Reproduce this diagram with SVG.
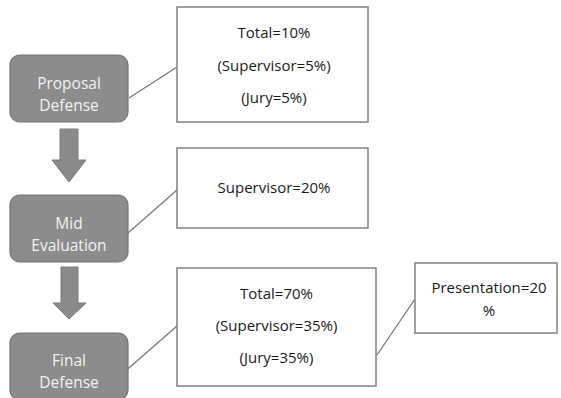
<svg xmlns="http://www.w3.org/2000/svg" width="561" height="398" viewBox="0 0 561 398">
<style>
.node{fill:#8c8c8c;stroke:#757575;stroke-width:1.2}
.nt{fill:#f2f2f2;font-family:"Open Sans","Noto Sans",sans-serif;font-size:15.5px;text-anchor:middle;dominant-baseline:central}
.box{fill:#ffffff;stroke:#808080;stroke-width:1.5}
.bt{fill:#1a1a1a;font-family:"Open Sans","Noto Sans",sans-serif;font-size:15px;text-anchor:middle;dominant-baseline:central}
.con{stroke:#777777;stroke-width:1.3;fill:none}
.arr{fill:#8a8a8a;stroke:#7a7a7a;stroke-width:1}
</style>
<rect width="561" height="398" fill="#ffffff"/>
<g id="connectors">
<line class="con" x1="129" y1="98" x2="177" y2="67"/>
<line class="con" x1="128" y1="233" x2="177" y2="190"/>
<line class="con" x1="122" y1="374" x2="177" y2="326"/>
<line class="con" x1="377" y1="355" x2="415" y2="299"/>
<polygon class="arr" points="60,129 78,129 78,160 86,160 69,182 52,160 60,160"/>
<polygon class="arr" points="61,267 78,267 78,303 86,303 69,319 53,303 61,303"/>
</g>
<g id="proposal">
<rect class="node" x="10" y="55" width="118" height="67" rx="10"/>
<text class="nt" x="69" y="83">Proposal</text>
<text class="nt" x="69" y="105">Defense</text>
</g>
<g id="mid">
<rect class="node" x="10" y="195" width="118" height="67" rx="10"/>
<text class="nt" x="69" y="223">Mid</text>
<text class="nt" x="69" y="245">Evaluation</text>
</g>
<g id="final">
<rect class="node" x="10" y="333" width="118" height="67" rx="10"/>
<text class="nt" x="69" y="360">Final</text>
<text class="nt" x="69" y="382">Defense</text>
</g>
<g id="box1">
<rect class="box" x="177" y="7" width="191" height="115"/>
<text class="bt" x="274" y="32">Total=10%</text>
<text class="bt" x="274" y="65">(Supervisor=5%)</text>
<text class="bt" x="274" y="97">(Jury=5%)</text>
</g>
<g id="box2">
<rect class="box" x="177" y="148" width="191" height="80"/>
<text class="bt" x="274" y="187">Supervisor=20%</text>
</g>
<g id="box3">
<rect class="box" x="177" y="268" width="199" height="118"/>
<text class="bt" x="276.5" y="293">Total=70%</text>
<text class="bt" x="276.5" y="325">(Supervisor=35%)</text>
<text class="bt" x="276.5" y="357">(Jury=35%)</text>
</g>
<g id="box4">
<rect class="box" x="415" y="263" width="142" height="70"/>
<text class="bt" x="489" y="287">Presentation=20</text>
<text class="bt" x="489" y="310">%</text>
</g>
</svg>
